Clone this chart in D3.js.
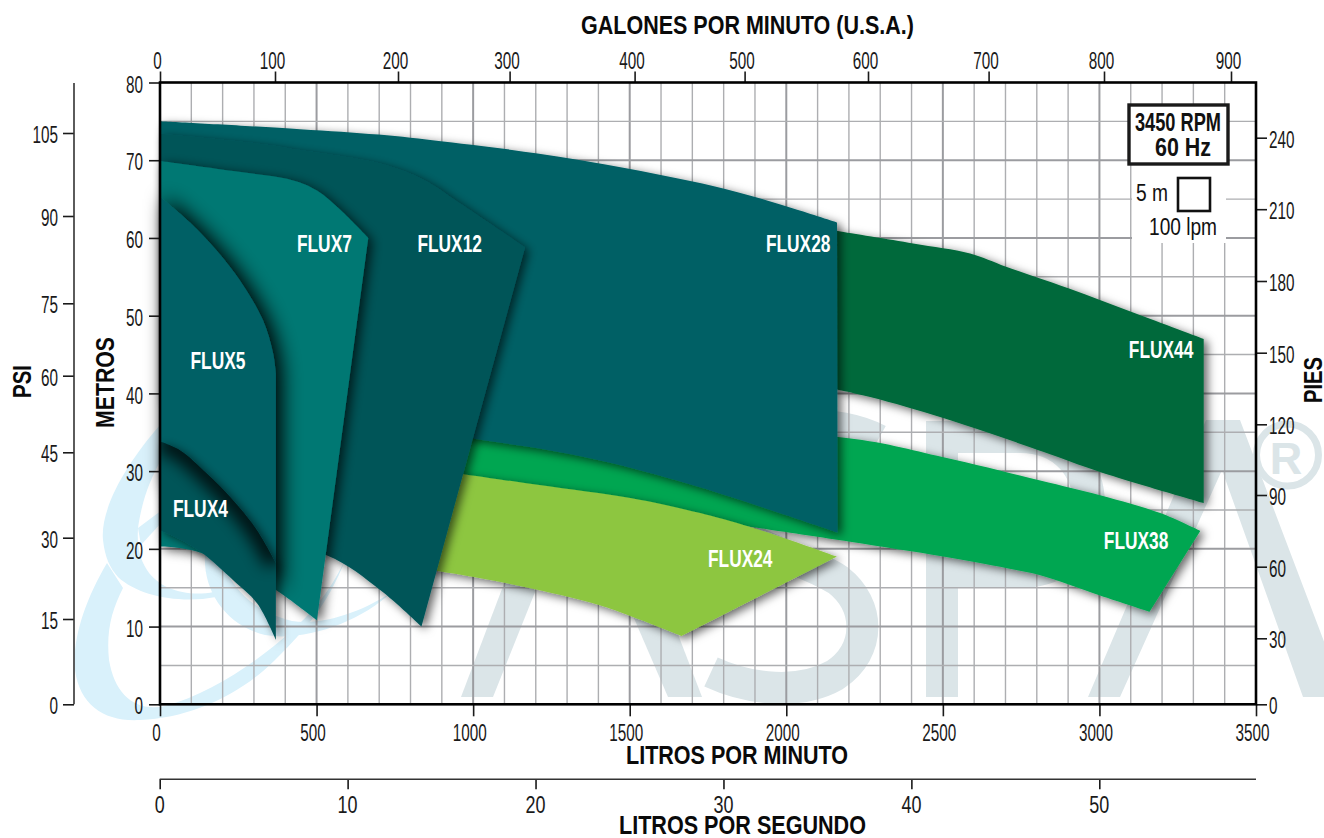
<!DOCTYPE html>
<html><head><meta charset="utf-8">
<script src="https://cdn.jsdelivr.net/npm/d3@7"></script>
<style>html,body{margin:0;padding:0;background:#fff}svg{display:block}text{font-family:"Liberation Sans",Arial,sans-serif}</style>
</head><body><svg id="c" width="1324" height="838"></svg>
<script>
// ---- tick labels ----
const lpmTicks=[0,500,1000,1500,2000,2500,3000,3500];
const lpsTicks=[0,10,20,30,40,50];
const gpmTicks=[0,100,200,300,400,500,600,700,800,900];
const metrosTicks=[0,10,20,30,40,50,60,70,80];
const psiTicks=[0,15,30,45,60,75,90,105];
const piesTicks=[0,30,60,90,120,150,180,210,240];
// ---- series: [litres per minute, metres] ----
const flux44Top=[[2140,61.1],[2165,60.9],[2405,59.3],[2587,58.0],[2702,56.3],[2903,53.5],[3114,50.3],[3333,47.0]];
const flux44Bottom=[[2140,40.7],[2271,39.5],[2504,36.8],[2820,32.5],[3002,29.9],[3333,25.9]];
const flux38Top=[[862,35.3],[2165,34.4],[2502,31.8],[2811,28.8],[3002,26.9],[3194,24.6],[3322,22.3]];
const flux38Bottom=[[910,28.8],[1907,22.7],[2204,20.9],[2501,19.0],[2705,17.5],[2811,16.6],[3002,14.0],[3160,11.9]];
const flux24Top=[[877,30.2],[970,29.6],[1211,28.2],[1506,26.5],[1683,25.0],[1801,23.8],[1978,21.6],[2162,19.0]];
const flux24Bottom=[[830,17.5],[998,16.4],[1198,14.8],[1399,12.8],[1506,11.3],[1665,8.8]];
const flux28Top=[[0,75.0],[447,74.0],[698,73.3],[904,72.4],[1200,70.9],[1497,68.9],[1805,66.3],[2022,63.8],[2162,62.0]];
const flux28Bottom=[[0,39.1],[767,35.9],[998,34.2],[1211,32.9],[1423,31.2],[1683,28.4],[1920,25.4],[2164,22.1]];
const flux12Top=[[0,73.4],[342,72.0],[447,71.3],[709,69.5],[846,67.4],[960,64.4],[1166,58.8]];
const flux12Bottom=[[0,23.7],[530,19.2],[703,14.7],[835,10.0]];
const flux7Top=[[0,69.9],[233,68.6],[425,67.4],[501,66.1],[584,63.3],[665,60.0]];
const flux7Bottom=[[0,20.3],[64,20.1],[137,19.4],[250,17.3],[370,14.7],[501,10.8]];
const flux5Top=[[0,65.3],[96,62.0],[181,58.4],[256,54.5],[329,49.4],[361,45.2],[370,42.6]];
const flux5Bottom=[[0,28.8],[233,21.1],[370,14.7]];
const flux4Top=[[0,33.8],[64,32.7],[150,29.7],[233,26.3],[310,22.4],[370,18.2]];
const flux4Bottom=[[0,22.4],[64,21.2],[137,19.4],[233,16.0],[310,13.0],[370,8.3]];
const bandNames=["FLUX44","FLUX38","FLUX24","FLUX28","FLUX12","FLUX7","FLUX5","FLUX4"];
const labelLpm=[3197,3117,1853,2038,925,525,185,129];
const labelM=[44.5,20.0,17.7,58.2,58.2,58.2,43.2,24.1];

const bands=[
 {top:flux44Top,bottom:flux44Bottom,fill:"#03693a",f:"sMid"},
 {top:flux38Top,bottom:flux38Bottom,fill:"#00a651",f:"sMid"},
 {top:flux24Top,bottom:flux24Bottom,fill:"#8dc63f",f:"sMid"},
 {top:flux28Top,bottom:flux28Bottom,fill:"#006065",f:"sMid"},
 {top:flux12Top,bottom:flux12Bottom,fill:"#005559",f:"sMid"},
 {top:flux7Top,bottom:flux7Bottom,fill:"#007873",f:"sHigh"},
 {top:flux5Top,bottom:flux5Bottom,fill:"#006065",f:"sDeep"},
 {top:flux4Top,bottom:flux4Bottom,fill:"#005559",f:"sMid"}
];

const svg=d3.select("#c");
const x=d3.scaleLinear().domain([0,3500]).range([160,1256]);
const y=d3.scaleLinear().domain([0,80]).range([704.3,82.5]);
const xLps=d3.scaleLinear().domain([0,50]).range([159.7,1099.3]);
// Source axes are hand-set, so these scales follow the printed tick positions
const xGpm=d3.scaleLinear().domain(gpmTicks).range([160,275,398,509.6,634.6,744.6,868,988.6,1104,1231]);
const yPsi=d3.scaleLinear().domain(psiTicks).range([704.3,619,537.7,452.3,375.7,303.3,216,133]);
const yPies=d3.scaleLinear().domain(piesTicks).range([704.3,638.3,566.7,495,424.3,352.7,281,209.2,137.7]);

// ---- filters ----
const defs=svg.append("defs");
function shadow(id,dx,dy,std,op){
 const f=defs.append("filter").attr("id",id).attr("filterUnits","userSpaceOnUse")
  .attr("x",0).attr("y",0).attr("width",1324).attr("height",838);
 f.append("feDropShadow").attr("dx",dx).attr("dy",dy).attr("stdDeviation",std)
  .attr("flood-color","#000").attr("flood-opacity",op);
}
shadow("sMid",4,3,5,.6); shadow("sHigh",4,3,6,.72); shadow("sDeep",6,1,10,1);
defs.append("filter").attr("id","blur").attr("filterUnits","userSpaceOnUse")
 .attr("x",0).attr("y",0).attr("width",1324).attr("height",838)
 .append("feGaussianBlur").attr("stdDeviation",8);

// ---- watermark ----
const wm=svg.append("g");
const blue="#d9f1fb", grey="#dbe5e8";
[
 "M160,425C125,465 100,510 103,540C105,558 110,568 118,577C138,596 180,604 216,597L214,592C188,597 160,590 147,570C139,558 137,545 138,528C142,500 150,480 161,460Z",
 "M138,528L162,510L162,522L141,545Z",
 "M107,563C85,600 72,640 75,670C80,706 105,722 140,720C190,718 240,695 275,660C305,630 328,605 345,560C328,595 310,615 290,632C260,660 210,694 165,706C135,712 115,695 109,660C106,630 112,610 123,588Z",
 "M205,555C203,590 225,625 265,635C305,642 360,622 392,592C365,610 325,626 292,621C255,612 232,590 222,560Z"
].forEach(d=>wm.append("path").attr("d",d).attr("fill",blue));
[
 "M461,697L493,697L596,440L566,420Z",
 "M668,697L702,697L596,420L570,470Z",
 "M1088,697L1120,697L1222,470L1303,697L1345,697L1240,420L1206,420Z"
].forEach(d=>wm.append("path").attr("d",d).attr("fill",grey));
wm.append("path").attr("d","M711,672C750,690 800,695 835,675C872,650 870,605 838,580C800,555 745,550 725,515C705,470 745,430 800,425C830,424 860,430 878,440")
 .attr("fill","none").attr("stroke",grey).attr("stroke-width",32);
wm.append("path").attr("d","M942,697L942,437L1020,437C1112,437 1112,572 1020,572L942,572")
 .attr("fill","none").attr("stroke",grey).attr("stroke-width",32);
wm.append("circle").attr("cx",1287.5).attr("cy",455).attr("r",31).attr("fill","none").attr("stroke",grey).attr("stroke-width",7);
wm.append("text").text("R").attr("x",1286).attr("y",474).attr("text-anchor","middle").attr("font-weight","bold").attr("font-size",45).attr("fill",grey);

// ---- grid ----
const grid=svg.append("g");
grid.selectAll(".v").data(d3.range(100,3500,100)).join("line")
 .attr("x1",d=>x(d)).attr("x2",d=>x(d)).attr("y1",y(80)).attr("y2",y(0))
 .attr("stroke",d=>d%500===0?"#9b9ca0":"#adaeb1").attr("stroke-width",d=>d%500===0?2:1.4);
grid.selectAll(".h").data(d3.range(5,80,5)).join("line")
 .attr("y1",d=>y(d)).attr("y2",d=>y(d)).attr("x1",x(0)).attr("x2",x(3500))
 .attr("stroke",d=>d%10===0?"#9b9ca0":"#adaeb1").attr("stroke-width",d=>d%10===0?2:1.4);
// legend clearing
svg.append("rect").attr("x",1132).attr("y",165).attr("width",94).attr("height",78).attr("fill","#fff");

// ---- bands ----
const line=d3.line().x(d=>x(d[0])).y(d=>y(d[1])).curve(d3.curveCatmullRom.alpha(.5));
const outline=b=>line(b.top)+"L"+line(b.bottom.slice().reverse()).slice(1)+"Z";
const bg=svg.append("g");
bg.selectAll("path").data(bands).join("path")
 .attr("d",outline).attr("fill",d=>d.fill).attr("filter",d=>`url(#${d.f})`);
// inner shade of the smallest band
const f4=bands[bands.length-1];
defs.append("clipPath").attr("id","clip4").append("path").attr("d",outline(f4));
svg.append("g").attr("clip-path","url(#clip4)").append("path")
 .attr("d",line(f4.top)).attr("fill","none").attr("stroke","#000").attr("stroke-width",22)
 .attr("stroke-opacity",.8).attr("filter","url(#blur)");

// labels on bands
const wBand={5:55,6:64.5};
svg.append("g").selectAll("text").data(bandNames).join("text")
 .text(d=>d).attr("x",(d,i)=>x(labelLpm[i])).attr("y",(d,i)=>y(labelM[i]))
 .attr("text-anchor","middle").attr("fill","#fff").attr("font-weight","bold").attr("font-size",24)
 .attr("textLength",d=>wBand[d.length]).attr("lengthAdjust","spacingAndGlyphs");

// ---- axes ----
const ink="#1a1a1a";
function style(g,dx,dy,anchor){
 g.select(".domain").remove();
 g.selectAll(".tick line").attr("stroke",ink).attr("stroke-width",1.6);
 g.selectAll(".tick text").attr("font-size",24).attr("fill",ink)
  .attr("dx",dx).attr("dy",dy).attr("text-anchor",anchor)
  .attr("textLength",function(){return this.textContent.length*8.5;})
  .attr("lengthAdjust","spacingAndGlyphs");
}
const fmt=d3.format("d");
const A=(gen,sc,vals,size,pad)=>gen(sc).tickValues(vals).tickSize(size).tickPadding(pad).tickFormat(fmt);
svg.append("g").attr("transform","translate(0,82.5)").call(A(d3.axisTop,xGpm,gpmTicks,11,3)).call(style,-3,"0","middle");
svg.append("g").attr("transform","translate(0,704.3)").call(A(d3.axisBottom,x,lpmTicks,12,8)).call(style,-4,"0.71em","middle");
svg.append("g").attr("transform","translate(0,779.3)").call(A(d3.axisBottom,xLps,lpsTicks,10,7)).call(style,-.5,"0.71em","middle")
 .call(g=>g.selectAll(".tick text").attr("textLength",function(){return this.textContent.length*10;}));
svg.append("g").attr("transform","translate(160,0)").call(A(d3.axisLeft,y,metrosTicks,11,6)).call(style,0,"0.4em","end");
svg.append("g").attr("transform","translate(74,0)").call(A(d3.axisLeft,yPsi,psiTicks,11,5)).call(style,0,"0.4em","end");
svg.append("g").attr("transform","translate(1257,0)").call(A(d3.axisRight,yPies,piesTicks,10,2)).call(style,0,"0.4em","start");

// frame and axis rules
svg.append("rect").attr("x",x(0)).attr("y",y(80)).attr("width",x(3500)-x(0)).attr("height",y(0)-y(80))
 .attr("fill","none").attr("stroke","#000").attr("stroke-width",2.6);
svg.append("line").attr("x1",74).attr("x2",74).attr("y1",83).attr("y2",704.3).attr("stroke","#333").attr("stroke-width",1.6);
svg.append("line").attr("x1",159.7).attr("x2",1256).attr("y1",779.3).attr("y2",779.3).attr("stroke","#333").attr("stroke-width",1.6);

// ---- titles ----
function title(t,xp,yp,w,rot){
 const n=svg.append("text").text(t).attr("font-weight","bold").attr("font-size",25).attr("fill","#0a0a0a")
  .attr("text-anchor","middle").attr("textLength",w).attr("lengthAdjust","spacingAndGlyphs");
 if(rot) n.attr("transform",`translate(${xp},${yp}) rotate(-90)`); else n.attr("x",xp).attr("y",yp);
}
title("GALONES POR MINUTO (U.S.A.)",747.5,34,333);
title("LITROS POR MINUTO",737,764,222);
title("LITROS POR SEGUNDO",742.5,834,247);
title("PSI",31,381.5,33,true);
title("METROS",113.5,382.5,91,true);
title("PIES",1322,380,46,true);

// ---- speed box and scale key ----
svg.append("rect").attr("x",1129).attr("y",105).attr("width",99).attr("height",59).attr("fill","#fff").attr("stroke","#1a1a1a").attr("stroke-width",3.4);
svg.append("rect").attr("x",1178).attr("y",178).attr("width",32).attr("height",33).attr("fill","#fff").attr("stroke","#111").attr("stroke-width",2.6);
const note=(t,xp,yp,w,b)=>svg.append("text").text(t).attr("x",xp).attr("y",yp).attr("font-size",b?25:23)
 .attr("font-weight",b?"bold":"normal").attr("fill","#111").attr("textLength",w).attr("lengthAdjust","spacingAndGlyphs");
note("3450 RPM",1135,131,86,true);
note("60 Hz",1155,155.5,56,true);
note("5 m",1136,201,32);
note("100 lpm",1149,235,68);
</script></body></html>
